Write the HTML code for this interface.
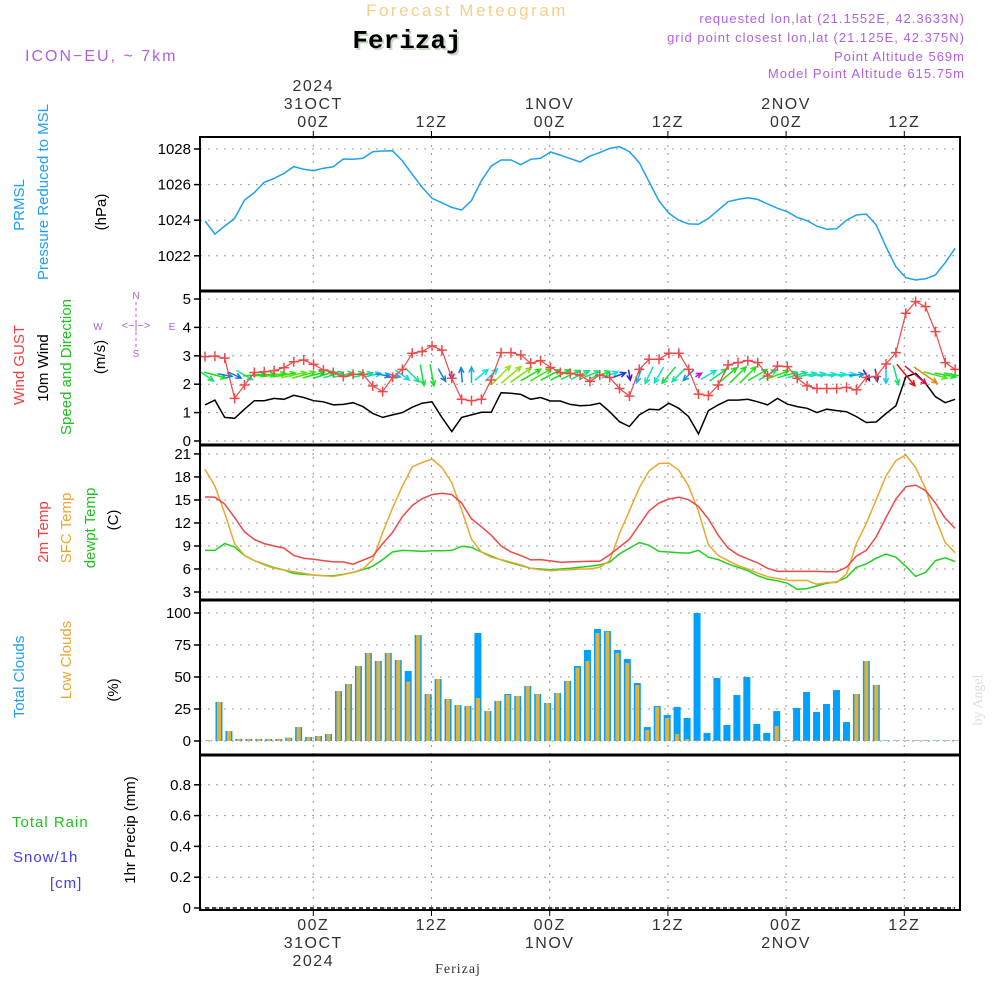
<!DOCTYPE html>
<html><head><meta charset="utf-8"><style>
body{margin:0;background:#fff;}
svg text{font-family:"Liberation Sans",sans-serif;}
</style></head><body>
<svg id="chart" width="1000" height="1000" viewBox="0 0 1000 1000" xmlns="http://www.w3.org/2000/svg">
<rect width="1000" height="1000" fill="#fff"/>
<text x="467" y="16" text-anchor="middle" font-size="17" fill="#f3cf8e" letter-spacing="2.5">Forecast Meteogram</text>
<text x="409" y="50" text-anchor="middle" font-size="26" font-weight="bold" fill="#c8d8c8" style="font-family:'Liberation Mono',monospace">Ferizaj</text>
<text x="407" y="48" text-anchor="middle" font-size="26" font-weight="bold" fill="#000" style="font-family:'Liberation Mono',monospace">Ferizaj</text>
<text x="25" y="61" font-size="16" fill="#b060e0" letter-spacing="2">ICON−EU, ~ 7km</text>
<g font-size="13" fill="#b060e0" text-anchor="end" letter-spacing="1">
<text x="965" y="23">requested lon,lat (21.1552E, 42.3633N)</text>
<text x="965" y="42">grid point closest lon,lat (21.125E, 42.375N)</text>
<text x="965" y="61">Point Altitude 569m</text>
<text x="965" y="78">Model Point Altitude 615.75m</text>
</g>
<g id="grid"></g>
<g id="marks"></g>
<g id="axes"></g>
<g font-size="15">
<text transform="translate(24,205) rotate(-90)" text-anchor="middle" fill="#1ea0f0">PRMSL</text>
<text transform="translate(48,192) rotate(-90)" text-anchor="middle" fill="#1ea0f0">Pressure Reduced to MSL</text>
<text transform="translate(106,212) rotate(-90)" text-anchor="middle" fill="#000">(hPa)</text>
<text transform="translate(24,365) rotate(-90)" text-anchor="middle" fill="#f04040">Wind GUST</text>
<text transform="translate(48,368) rotate(-90)" text-anchor="middle" fill="#000">10m Wind</text>
<text transform="translate(71,367) rotate(-90)" text-anchor="middle" fill="#20c020">Speed and Direction</text>
<text transform="translate(105,357) rotate(-90)" text-anchor="middle" fill="#000">(m/s)</text>
<text transform="translate(48,532) rotate(-90)" text-anchor="middle" fill="#f04040">2m Temp</text>
<text transform="translate(71,528) rotate(-90)" text-anchor="middle" fill="#e8a830">SFC Temp</text>
<text transform="translate(95,528) rotate(-90)" text-anchor="middle" fill="#20c020">dewpt Temp</text>
<text transform="translate(118,520) rotate(-90)" text-anchor="middle" fill="#000">(C)</text>
<text transform="translate(24,677) rotate(-90)" text-anchor="middle" fill="#1ea0f0">Total Clouds</text>
<text transform="translate(71,660) rotate(-90)" text-anchor="middle" fill="#e8a830">Low Clouds</text>
<text transform="translate(118,690) rotate(-90)" text-anchor="middle" fill="#000">(%)</text>
<text x="12" y="827" fill="#20c020" letter-spacing="1">Total  Rain</text>
<text x="13" y="862" fill="#4040f0" letter-spacing="1">Snow/1h</text>
<text x="50" y="888" fill="#4040f0" letter-spacing="1">[cm]</text>
<text transform="translate(135,830) rotate(-90)" text-anchor="middle" fill="#000">1hr Precip (mm)</text>
</g>
<g font-size="10" fill="#b060e0" stroke="none">
<text x="136" y="299" text-anchor="middle">N</text>
<text x="136" y="357" text-anchor="middle">S</text>
<text x="98" y="330" text-anchor="middle">W</text>
<text x="172" y="330" text-anchor="middle">E</text>
<text x="136" y="329" text-anchor="middle" font-size="11">&lt;−|−&gt;</text>
<line x1="136" y1="302" x2="136" y2="348" stroke="#b060e0" stroke-dasharray="3,3"/>
</g>
<text transform="translate(982,700) rotate(-90)" text-anchor="middle" font-size="14" fill="#ddd" style="font-family:'Liberation Serif',serif">by Angel</text>
<text x="458" y="973" text-anchor="middle" font-size="14" fill="#333" letter-spacing="1" style="font-family:'Liberation Serif',serif">Ferizaj</text>
</svg>
<script>
const pressure=[1023.96,1023.22,1023.67,1024.1,1025.13,1025.55,1026.13,1026.35,1026.63,1027.01,1026.86,1026.78,1026.92,1027.0,1027.44,1027.42,1027.48,1027.85,1027.89,1027.9,1027.33,1026.58,1025.85,1025.23,1024.98,1024.72,1024.57,1025.1,1026.22,1027.04,1027.38,1027.38,1027.12,1027.42,1027.48,1027.83,1027.66,1027.46,1027.27,1027.6,1027.8,1028.04,1028.13,1027.85,1027.23,1026.16,1025.08,1024.39,1024.0,1023.79,1023.77,1024.1,1024.57,1025.04,1025.17,1025.26,1025.17,1024.91,1024.67,1024.48,1024.16,1023.97,1023.67,1023.49,1023.52,1024.0,1024.29,1024.35,1023.73,1022.51,1021.39,1020.77,1020.64,1020.71,1020.92,1021.61,1022.42];
const gust=[2.97,2.99,2.92,1.50,1.97,2.41,2.44,2.48,2.58,2.79,2.85,2.70,2.50,2.41,2.27,2.35,2.35,1.94,1.74,2.24,2.52,3.09,3.15,3.35,3.20,2.21,1.47,1.42,1.47,2.15,3.11,3.11,3.03,2.74,2.83,2.59,2.41,2.38,2.32,2.1,2.32,2.24,1.85,1.58,2.52,2.88,2.88,3.09,3.09,2.52,1.65,1.60,1.97,2.68,2.76,2.83,2.76,2.29,2.64,2.62,2.21,1.94,1.85,1.85,1.85,1.89,1.80,2.24,2.27,2.71,3.11,4.50,4.91,4.73,3.85,2.76,2.52];
const windSpeed=[1.27,1.44,0.83,0.80,1.12,1.42,1.42,1.50,1.47,1.61,1.53,1.42,1.38,1.27,1.29,1.35,1.21,0.97,0.83,0.92,1.00,1.19,1.33,1.38,0.83,0.33,0.83,0.92,1.01,1.01,1.70,1.68,1.64,1.47,1.53,1.41,1.41,1.29,1.24,1.26,1.33,1.03,0.68,0.51,0.92,1.12,1.10,1.33,1.15,0.86,0.25,1.07,1.27,1.44,1.44,1.47,1.38,1.27,1.50,1.30,1.21,1.15,1.00,1.12,1.07,1.03,0.86,0.65,0.67,0.97,1.24,2.26,2.38,2.03,1.56,1.35,1.47];
const windDir=[-35,-15,-10,-25,-30,5,5,8,10,12,15,15,18,15,12,12,12,12,-10,-15,-35,-45,-80,-80,-60,-90,95,90,40,45,45,40,35,30,30,28,28,25,25,22,20,20,20,-80,-110,-115,-120,-130,-135,-135,30,30,35,40,45,45,30,30,20,15,15,10,8,5,5,5,5,-60,-80,-90,-75,-50,-40,-35,-15,-10,-10];
const temp2m=[15.40,15.35,14.47,12.70,10.85,9.84,9.31,9.0,8.73,7.76,7.41,7.28,7.10,6.93,6.93,6.62,7.15,7.68,9.31,10.76,12.83,14.29,15.17,15.70,15.88,15.70,14.60,12.53,11.51,10.41,9.0,8.21,7.76,7.19,7.23,7.06,6.88,6.93,6.97,7.01,7.01,7.85,8.87,9.88,11.73,13.59,14.60,15.13,15.35,15.04,14.16,12.53,10.41,8.73,7.85,7.32,6.79,6.09,5.69,5.69,5.69,5.69,5.69,5.65,5.65,6.22,7.68,8.43,10.19,12.70,15.13,16.72,16.94,16.23,14.60,12.62,11.29];
const tempSfc=[19.01,16.81,13.28,9.31,7.76,7.10,6.53,6.09,5.87,5.65,5.43,5.21,5.12,5.03,5.25,5.56,6.0,7.23,10.76,13.94,16.81,19.32,19.89,20.34,19.23,17.25,13.72,9.88,8.21,7.54,7.23,6.88,6.53,6.09,5.91,5.78,5.87,5.91,6.0,6.0,6.22,7.10,10.63,13.59,16.59,18.79,19.76,19.81,18.88,16.81,13.50,9.18,7.76,7.10,6.44,6.0,5.47,4.99,4.76,4.54,4.50,4.50,4.01,4.24,4.24,5.34,9.31,11.95,15.04,18.13,20.12,20.87,19.23,16.50,12.62,9.44,8.12];
const dewpt=[8.43,8.43,9.31,8.87,7.76,7.10,6.62,6.18,5.87,5.43,5.29,5.21,5.12,5.12,5.29,5.56,5.91,6.35,7.23,8.21,8.43,8.38,8.29,8.38,8.38,8.43,8.96,8.82,8.21,7.68,7.19,6.79,6.44,6.09,6.0,5.91,6.0,6.09,6.22,6.35,6.53,6.88,7.98,8.73,9.44,9.09,8.29,8.21,8.12,8.07,8.43,7.54,7.23,6.66,6.22,5.78,5.12,4.68,4.46,4.15,3.35,3.44,3.79,4.15,4.32,4.90,6.22,6.66,7.41,7.94,7.54,6.35,5.03,5.56,7.10,7.46,6.97];
const totalClouds=[0.5,30.5,7.8,1.6,1.6,1.6,1.6,1.6,2.6,10.9,3.1,3.9,5.5,39,44.5,58.6,68.8,62.5,68.8,63.3,54.7,82.8,36.7,48.4,32.8,28.1,27.3,84.4,23.4,31.3,36.7,35.2,43,36.7,29.7,37.5,46.9,58.6,71.1,87.5,85.9,71.1,64.1,45.3,10.9,27.3,20.3,26.6,18,100,6.3,49.2,12.5,35.9,50,13.3,6.3,23.4,0.5,25.8,38.3,22.7,28.9,39.8,14.8,36.7,62.5,43.8,0.5,0.5,0.5,0.5,0.5,0.5,0.5,0.5];
const lowClouds=[0.5,30.5,7.8,1.6,1.6,1.6,1.6,1.6,2.6,10.9,3.1,3.9,5.5,39,44.5,58.6,68.8,62.5,68.8,63.3,46.4,82.8,36.7,48.4,32.8,28.1,27.3,33.6,23.4,31.3,35.9,35.2,43,36.7,29.7,37.5,46.9,57.3,62.5,84.4,85.4,68.8,60.9,43.8,8.6,26.6,18,5.5,1.6,0.5,0.5,0.5,0.5,0.5,0.5,0.5,0.5,11.7,0.5,0.5,0.5,0.5,0.5,0.5,0.5,36.7,62.5,43.8,0.5,0.5,0.5,0.5,0.5,0.5,0.5,0.5];
const precip=new Array(77).fill(0);
const pressTicks=[1022,1024,1026,1028];
const windTicks=[0,1,2,3,4,5];
const tempTicks=[3,6,9,12,15,18,21];
const cloudTicks=[0,25,50,75,100];
const precipTicks=[0,0.2,0.4,0.6,0.8];
const timeHours=[0,12,24,36,48,60];
const timeTop=[["2024","31OCT","00Z"],["","","12Z"],["","1NOV","00Z"],["","","12Z"],["","2NOV","00Z"],["","","12Z"]];
const timeBottom=[["00Z","31OCT","2024"],["12Z","",""],["00Z","1NOV",""],["12Z","",""],["00Z","2NOV",""],["12Z","",""]];

const NS="http://www.w3.org/2000/svg";
function mk(tag,attrs,parent){const e=document.createElementNS(NS,tag);for(const k in attrs)e.setAttribute(k,attrs[k]);parent.appendChild(e);return e;}
const X0=200,X1=960;
const xLine=i=>205+i*9.87;
const xBar=k=>209+k*9.96;
const xTime=h=>313.3+h*9.85;
const yP=v=>149+(1028-v)*17.8;
const yW=v=>441-v*28.4;
const yT=v=>592-(v-3)*7.67;
const yC=v=>741-v*1.28;
const yR=v=>908-v*154;
const panels=[[137,291],[291,445],[445,600],[600,755],[755,910]];
const grid=document.getElementById('grid'),marks=document.getElementById('marks'),axes=document.getElementById('axes');
const defs=mk('defs',{},document.getElementById('chart'));
panels.forEach((p,n)=>{const c=mk('clipPath',{id:'clip'+n},defs);mk('rect',{x:X0,y:p[0],width:X1-X0,height:p[1]-p[0]},c);});

timeHours.forEach(h=>{
 const l=mk('line',{x1:xTime(h),x2:xTime(h),y1:137,y2:910,stroke:'#999','stroke-dasharray':'2,6'},grid);
 
 
});
function yAxis(ticks,yf,fmt,name){
 ticks.forEach(t=>{
  const y=yf(t);
  const g=mk('line',{x1:X0,x2:X1,y1:y,y2:y,stroke:'#999','stroke-dasharray':'2,6'},grid);
  
  
  mk('line',{x1:194,x2:X0,y1:y,y2:y,stroke:'#000','stroke-width':1.5},axes);
  const tx=mk('text',{x:191,y:y+5,'text-anchor':'end','font-size':15,fill:'#000'},axes);
  tx.textContent=fmt(t);
  
  
 });
}
yAxis(pressTicks,yP,t=>t,'pressure');
yAxis(windTicks,yW,t=>t,'wind');
yAxis(tempTicks,yT,t=>t,'temp');
yAxis(cloudTicks,yC,t=>t,'cloud');
yAxis(precipTicks,yR,t=>t===0?'0':t.toFixed(1),'precip');

timeHours.forEach((h,n)=>{
 const x=xTime(h);
 mk('line',{x1:x,x2:x,y1:131,y2:137,stroke:'#000'},axes);
 mk('line',{x1:x,x2:x,y1:910,y2:916,stroke:'#000'},axes);
 [91,109,127].forEach((y,j)=>{const s=timeTop[n][j];if(!s)return;
  const t=mk('text',{x:x,y:y,'text-anchor':'middle','font-size':16,fill:'#333','letter-spacing':1.5},axes);t.textContent=s;
  
  });
 [930,948,966].forEach((y,j)=>{const s=timeBottom[n][j];if(!s)return;
  const t=mk('text',{x:x,y:y,'text-anchor':'middle','font-size':16,fill:'#333','letter-spacing':1.5},axes);t.textContent=s;
  
  });
});

function line(arr,xf,yf,color,clip,name,w){
 const d=arr.map((v,i)=>(i?'L':'M')+xf(i).toFixed(1)+','+yf(v).toFixed(1)).join('');
 const p=mk('path',{d:d,fill:'none',stroke:color,'stroke-width':w||1.5,'clip-path':'url(#clip'+clip+')'},marks);
 
 
 return p;
}
line(pressure,xLine,yP,'#1ea0f0',0,'pressure-line');
totalClouds.forEach((v,k)=>{
 const x=xBar(k);
 const r=mk('rect',{x:x-3.5,y:yC(v),width:7,height:741-yC(v),fill:'#00a0ff'},marks);
 
 
});
lowClouds.forEach((v,k)=>{
 const x=xBar(k);
 const r=mk('rect',{x:x-2,y:yC(v),width:4,height:741-yC(v),fill:'#e8b030'},marks);
 
 
});
line(windSpeed,xLine,yW,'#000',1,'wind-speed-line');
windDir.forEach((a,i)=>{
 const s=windSpeed[i];
 let hue=280-145*(s-0.33);if(hue<0)hue+=360;
 const col='hsl('+hue.toFixed(0)+',85%,48%)';
 const len=Math.min(28,4+s*13),rad=a*Math.PI/180;
 const cx=xLine(i),cy=375;
 const dx=Math.cos(rad)*len/2,dy=-Math.sin(rad)*len/2;
 const x1=cx-dx,y1=cy-dy,x2=cx+dx,y2=cy+dy;
 const hl=6,ang=Math.atan2(y2-y1,x2-x1);
 const d='M'+x1.toFixed(1)+','+y1.toFixed(1)+'L'+x2.toFixed(1)+','+y2.toFixed(1)+
  'M'+(x2-hl*Math.cos(ang-0.45)).toFixed(1)+','+(y2-hl*Math.sin(ang-0.45)).toFixed(1)+'L'+x2.toFixed(1)+','+y2.toFixed(1)+
  'L'+(x2-hl*Math.cos(ang+0.45)).toFixed(1)+','+(y2-hl*Math.sin(ang+0.45)).toFixed(1);
 const p=mk('path',{d:d,fill:'none',stroke:col,'stroke-width':1.5,'clip-path':'url(#clip1)'},marks);
 
 
});
line(gust,xLine,yW,'#f04848',1,'wind-gust-line',1.2);
gust.forEach((v,i)=>{
 const x=xLine(i),y=yW(v);
 const p=mk('path',{d:'M'+(x-5)+','+y+'h10M'+x+','+(y-5)+'v10',stroke:'#f04848','stroke-width':1.5,'clip-path':'url(#clip1)'},marks);
 
 
});
line(dewpt,xLine,yT,'#20d020',2,'dewpoint-line');
line(tempSfc,xLine,yT,'#e8a830',2,'sfc-temp-line');
line(temp2m,xLine,yT,'#f04848',2,'temp-2m-line');
line(precip,xLine,yR,'#000',4,'precip-line',1.5).setAttribute('stroke-dasharray','4,3');

mk('rect',{x:X0,y:137,width:X1-X0,height:773,fill:'none',stroke:'#000','stroke-width':2},axes);
[291,445,600,755].forEach(y=>{mk('line',{x1:X0-1,x2:X1+1,y1:y,y2:y,stroke:'#000','stroke-width':3},axes);});
</script>
</body></html>
